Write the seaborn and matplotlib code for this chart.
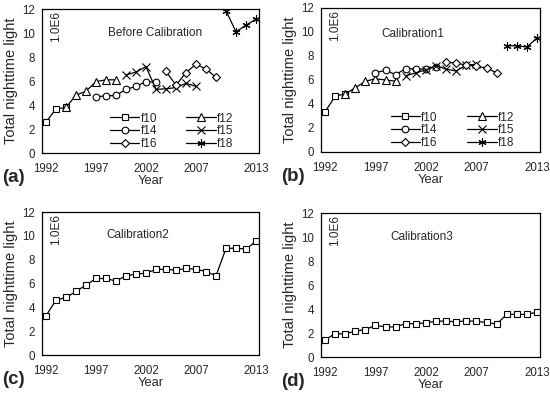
import numpy as np
import pandas as pd
import matplotlib
matplotlib.use("Agg")
import matplotlib.pyplot as plt
import seaborn as sns

# --- DATA (units of 1.0E6) ---
YEARS = list(range(1992, 2014))

# sensor year ranges
F10_YEARS = [1992, 1993, 1994]
F12_YEARS = [1994, 1995, 1996, 1997, 1998, 1999]
F14_YEARS = [1997, 1998, 1999, 2000, 2001, 2002, 2003]
F15_YEARS = [2000, 2001, 2002, 2003, 2004, 2005, 2006, 2007]
F16_YEARS = [2004, 2005, 2006, 2007, 2008, 2009]
F18_YEARS = [2010, 2011, 2012, 2013]

# (a) before calibration
A_F10 = [2.6, 3.65, 3.8]
A_F12 = [3.8, 4.82, 5.15, 5.95, 6.1, 6.1]
A_F14 = [4.7, 4.75, 4.8, 5.3, 5.55, 5.95, 5.9]
A_F15 = [6.5, 6.75, 7.2, 5.3, 5.35, 5.45, 5.8, 5.55]
A_F16 = [6.8, 5.65, 6.7, 7.4, 7.0, 6.3]
A_F18 = [11.85, 10.1, 10.65, 11.15]

# (b) calibration 1
B_F10 = [3.35, 4.65, 4.85]
B_F12 = [4.85, 5.35, 5.9, 6.1, 6.0, 5.9]
B_F14 = [6.62, 6.8, 6.45, 6.95, 6.93, 6.9, 7.1]
B_F15 = [6.35, 6.6, 6.85, 7.2, 6.9, 6.75, 7.25, 7.3]
B_F16 = [7.5, 7.4, 7.25, 7.15, 7.0, 6.6]
B_F18 = [8.85, 8.85, 8.75, 9.5]

# (c) calibration 2
C_VALS = [3.3, 4.6, 4.83, 5.33, 5.87, 6.42, 6.42, 6.2, 6.65, 6.79, 6.87,
          7.18, 7.2, 7.12, 7.26, 7.2, 7.0, 6.65, 8.94, 8.97, 8.88, 9.55]

# (d) calibration 3
D_VALS = [1.45, 1.93, 1.93, 2.15, 2.29, 2.63, 2.51, 2.51, 2.79, 2.77, 2.85,
          2.99, 2.99, 2.93, 3.02, 2.96, 2.88, 2.74, 3.55, 3.55, 3.55, 3.74]

SENSORS = ["f10", "f12", "f14", "f15", "f16", "f18"]
SENSOR_YEARS = [F10_YEARS, F12_YEARS, F14_YEARS, F15_YEARS, F16_YEARS, F18_YEARS]
MARKERS = {"f10": "s", "f12": "^", "f14": "o", "f15": "x", "f16": "D", "f18": (6, 2, 0)}
MSIZES = {"f10": 4.6, "f12": 5.3, "f14": 4.8, "f15": 5.2, "f16": 4.0, "f18": 5.8}

XTICKS = [1992, 1997, 2002, 2007, 2013]
YTICKS = [0, 2, 4, 6, 8, 10, 12]

sns.set_style("white")
plt.rcParams["font.family"] = ["Liberation Sans", "DejaVu Sans"]

fig = plt.figure(figsize=(5.5, 3.96), dpi=100)
W, H = 550.0, 396.0


def make_ax(left, right, top, bottom):
    return fig.add_axes([left / W, 1 - bottom / H, (right - left) / W, (bottom - top) / H])


def draw_series(ax, years, vals, label, sensor):
    sns.lineplot(x=years, y=vals, ax=ax, color="black", linewidth=0.9,
                 marker=MARKERS[sensor], markersize=MSIZES[sensor],
                 markerfacecolor="white", markeredgecolor="black",
                 markeredgewidth=0.8, label=label, legend=False)


def style_ax(ax, title, tx, ty, panel):
    ax.set_xlim(1991.6, 2013.3)
    ax.set_ylim(0, 12)
    ax.set_xticks(XTICKS)
    ax.set_yticks(YTICKS)
    ax.tick_params(axis="both", length=0, labelsize=8.3)
    ax.tick_params(axis="x", pad=7)
    ax.tick_params(axis="y", pad=5)
    for s in ax.spines.values():
        s.set_color("black")
        s.set_linewidth(0.9)
        s.set_visible(True)
    ax.set_xlabel("Year", fontsize=9.3, labelpad=0)
    ax.set_ylabel("Total nighttime light", fontsize=10.5, labelpad=3)
    ax.text(0.065, 0.985, "1.0E6", transform=ax.transAxes, rotation=90,
            ha="center", va="top", fontsize=8.5)
    ax.text(tx, ty, title, transform=ax.transAxes, ha="center", va="center",
            fontsize=8.5)
    pos = ax.get_position()
    fig.text(pos.x0 - 0.072, pos.y0 - 0.063, panel, fontsize=13.5, fontweight="bold",
             ha="left", va="center")


def sensor_panel(ax, data):
    for sensor, years, vals in zip(SENSORS, SENSOR_YEARS, data):
        draw_series(ax, years, vals, sensor, sensor)
    handles, labels = ax.get_legend_handles_labels()
    order = [0, 2, 4, 1, 3, 5]
    ax.legend([handles[i] for i in order], [labels[i] for i in order],
              ncol=2, frameon=False, loc="lower right", fontsize=8.5,
              bbox_to_anchor=(0.905, -0.01), handlelength=2.5, handletextpad=0.1,
              columnspacing=2.5, labelspacing=0.05, borderaxespad=0.0)


ax_a = make_ax(42, 259, 9, 153)
sensor_panel(ax_a, [A_F10, A_F12, A_F14, A_F15, A_F16, A_F18])
style_ax(ax_a, "Before Calibration", 0.52, 0.83, "(a)")

ax_b = make_ax(321, 540, 8, 152)
sensor_panel(ax_b, [B_F10, B_F12, B_F14, B_F15, B_F16, B_F18])
style_ax(ax_b, "Calibration1", 0.42, 0.82, "(b)")

ax_c = make_ax(42, 259, 212, 355)
draw_series(ax_c, YEARS, C_VALS, None, "f10")
style_ax(ax_c, "Calibration2", 0.44, 0.84, "(c)")

ax_d = make_ax(321, 540, 213, 357)
draw_series(ax_d, YEARS, D_VALS, None, "f10")
style_ax(ax_d, "Calibration3", 0.46, 0.83, "(d)")

fig.savefig("out.png", dpi=100)
